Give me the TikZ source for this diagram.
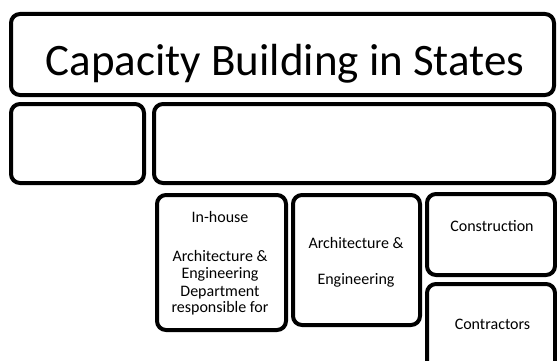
\documentclass[tikz,border=0pt]{standalone}
\usepackage{fontspec}
\setmainfont{Carlito}
\begin{document}
\begin{tikzpicture}[x=1pt,y=-1pt,
  box/.style={draw=black,line width=4pt,rounded corners=9pt,fill=white,inner sep=0pt},
  txt/.style={inner sep=0pt,anchor=base,font=\fontsize{16}{17}\selectfont},
  ttl/.style={inner sep=0pt,anchor=base,font=\fontsize{45}{50}\selectfont}]
\useasboundingbox (0,0) rectangle (557,361);
\node[box,minimum width=543pt,minimum height=81pt] (top) at (282.5,54.5) {};
\node[box,minimum width=133pt,minimum height=79pt] (left) at (77.5,143.5) {};
\node[box,minimum width=400pt,minimum height=79pt] (right) at (354,143.5) {};
\node[box,minimum width=129pt,minimum height=135pt] (a) at (221.5,262.5) {};
\node[box,minimum width=127pt,minimum height=130pt] (b) at (356.5,260) {};
\node[box,minimum width=128pt,minimum height=81pt] (c) at (491,234.5) {};
\node[box,minimum width=128pt,minimum height=91pt] (d) at (491,329.5) {};
\node[ttl] (title) at (285,75) {Capacity Building in States};
\node[txt] (a1) at (220,222) {In-house};
\node[txt] (a2) at (220,261) {Architecture \&};
\node[txt] (a3) at (220,278) {Engineering};
\node[txt] (a4) at (220,296) {Department};
\node[txt] (a5) at (220,312) {responsible for};
\node[txt] (b1) at (356,248) {Architecture \&};
\begin{scope}
\clip (294,270) rectangle (420,286.5);
\node[txt] (b2) at (356,284) {Engineering};
\end{scope}
\node[txt] (c1) at (492,231) {Construction};
\node[txt] (d1) at (492.5,329) {Contractors};
\end{tikzpicture}
\end{document}
